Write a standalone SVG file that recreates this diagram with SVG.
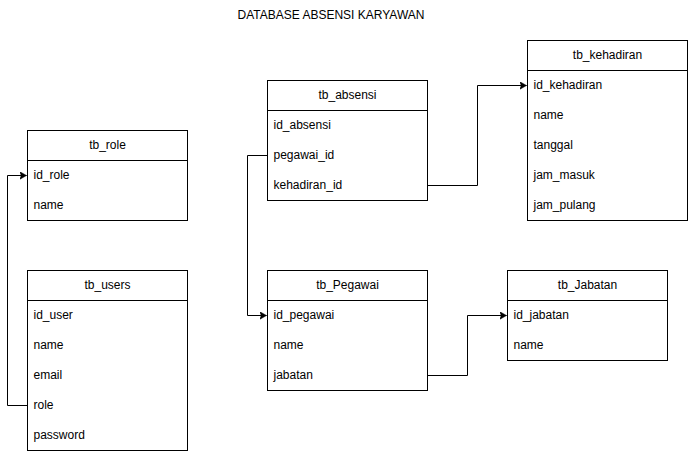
<svg xmlns="http://www.w3.org/2000/svg" width="689" height="452" viewBox="0 0 689 452">
<style>
.box{fill:#fff;stroke:#000;stroke-width:1}
.hl{stroke:#000;stroke-width:1}
.t{font-family:"Liberation Sans",Arial,sans-serif;font-size:12px;fill:#000}
.h{text-anchor:middle}
.e{fill:none;stroke:#000;stroke-width:1}
</style>
<defs>
<marker id="arr" markerWidth="10" markerHeight="10" refX="7" refY="4" orient="auto" markerUnits="userSpaceOnUse">
<path d="M0,0 L7,4 L0,8 L1.8,4 Z" fill="#000" stroke="#000" stroke-width="0.5"/>
</marker>
</defs>
<rect width="689" height="452" fill="#fff"/>
<text class="t h" x="331" y="19">DATABASE ABSENSI KARYAWAN</text>
<g transform="translate(0.5,0.5)">
<g id="connectors">
<path class="e" d="M27,405 H7 V175 H26" marker-end="url(#arr)"/>
<path class="e" d="M267,155 H247 V315 H266" marker-end="url(#arr)"/>
<path class="e" d="M427,185 H477 V85 H526" marker-end="url(#arr)"/>
<path class="e" d="M427,375 H467 V315 H506" marker-end="url(#arr)"/>
</g>
<g id="tb_role">
<rect class="box" x="27" y="130" width="160" height="90"/>
<line class="hl" x1="27" y1="160" x2="187" y2="160"/>
<text class="t h" x="107" y="148">tb_role</text>
<text class="t" x="33" y="178">id_role</text>
<text class="t" x="33" y="208">name</text>
</g>
<g id="tb_users">
<rect class="box" x="27" y="270" width="160" height="180"/>
<line class="hl" x1="27" y1="300" x2="187" y2="300"/>
<text class="t h" x="107" y="288">tb_users</text>
<text class="t" x="33" y="318">id_user</text>
<text class="t" x="33" y="348">name</text>
<text class="t" x="33" y="378">email</text>
<text class="t" x="33" y="408">role</text>
<text class="t" x="33" y="438">password</text>
</g>
<g id="tb_absensi">
<rect class="box" x="267" y="80" width="160" height="120"/>
<line class="hl" x1="267" y1="110" x2="427" y2="110"/>
<text class="t h" x="347" y="98">tb_absensi</text>
<text class="t" x="273" y="128">id_absensi</text>
<text class="t" x="273" y="158">pegawai_id</text>
<text class="t" x="273" y="188">kehadiran_id</text>
</g>
<g id="tb_kehadiran">
<rect class="box" x="527" y="40" width="160" height="180"/>
<line class="hl" x1="527" y1="70" x2="687" y2="70"/>
<text class="t h" x="607" y="58">tb_kehadiran</text>
<text class="t" x="533" y="88">id_kehadiran</text>
<text class="t" x="533" y="118">name</text>
<text class="t" x="533" y="148">tanggal</text>
<text class="t" x="533" y="178">jam_masuk</text>
<text class="t" x="533" y="208">jam_pulang</text>
</g>
<g id="tb_Pegawai">
<rect class="box" x="267" y="270" width="160" height="120"/>
<line class="hl" x1="267" y1="300" x2="427" y2="300"/>
<text class="t h" x="347" y="288">tb_Pegawai</text>
<text class="t" x="273" y="318">id_pegawai</text>
<text class="t" x="273" y="348">name</text>
<text class="t" x="273" y="378">jabatan</text>
</g>
<g id="tb_Jabatan">
<rect class="box" x="507" y="270" width="160" height="90"/>
<line class="hl" x1="507" y1="300" x2="667" y2="300"/>
<text class="t h" x="587" y="288">tb_Jabatan</text>
<text class="t" x="513" y="318">id_jabatan</text>
<text class="t" x="513" y="348">name</text>
</g>
</g>
</svg>
